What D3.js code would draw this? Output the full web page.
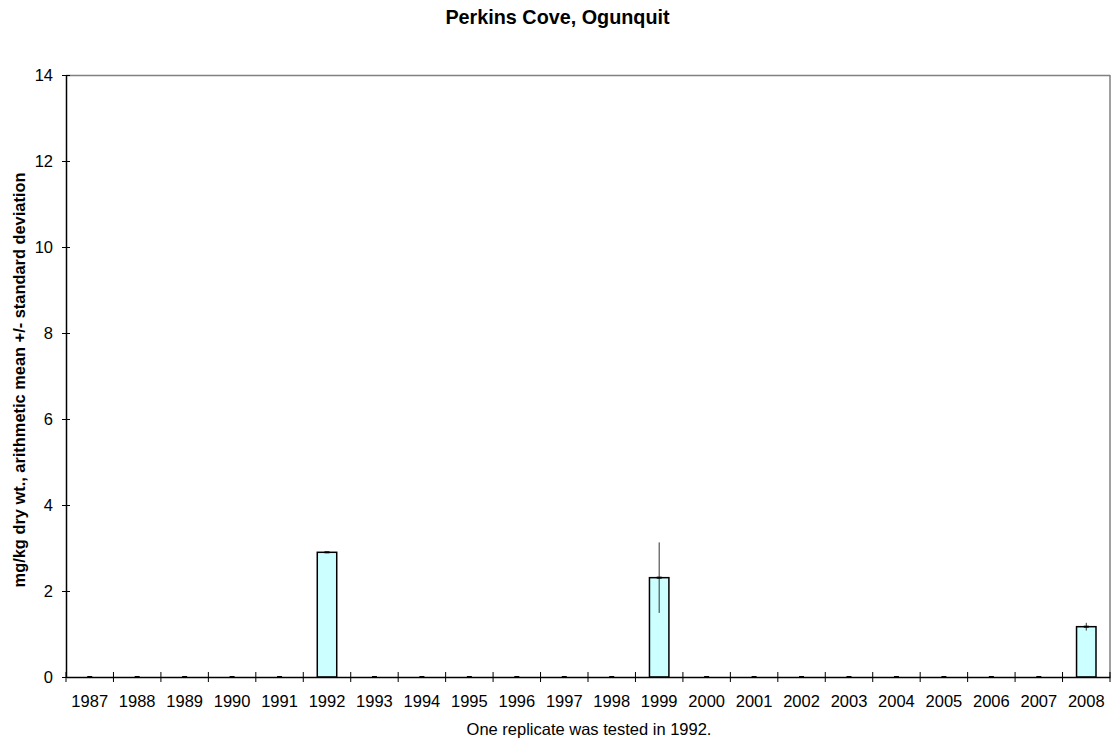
<!DOCTYPE html>
<html><head><meta charset="utf-8">
<script src="https://cdn.jsdelivr.net/npm/d3@7"></script>
<style>body{margin:0;background:#fff;} text{font-family:Arial,"Liberation Sans",sans-serif;}</style>
</head><body>
<svg id="c" width="1114" height="742"></svg>
<script>
const years = ["1987","1988","1989","1990","1991","1992","1993","1994","1995","1996","1997","1998","1999","2000","2001","2002","2003","2004","2005","2006","2007","2008"];
const means = [0,0,0,0,0,2.9,0,0,0,0,0,0,2.31,0,0,0,0,0,0,0,0,1.17];
const sds   = [0,0,0,0,0,0,0,0,0,0,0,0,0.82,0,0,0,0,0,0,0,0,0.09];
const yTicks = [0,2,4,6,8,10,12,14];
const title = "Perkins Cove, Ogunquit";
const yLabel = "mg/kg dry wt., arithmetic mean +/- standard deviation";
const caption = "One replicate was tested in 1992.";

const data = years.map((y,i)=>({year:y, mean:means[i], sd:sds[i]}));
const svg = d3.select("#c");
const L=66, R=1110, T=75, B=677;
const FF = "Arial,'Liberation Sans',sans-serif";
const x = d3.scaleBand().domain(years).range([L,R]).paddingInner(0).paddingOuter(0);
const y = d3.scaleLinear().domain([0,14]).range([B,T]);

// title
svg.append("text").attr("x",557.5).attr("y",23.5).attr("text-anchor","middle")
  .style("font-size","19.8px").style("font-weight","bold").text(title);

// frame (top/right grey)
svg.append("line").attr("x1",L).attr("x2",R).attr("y1",T+0.5).attr("y2",T+0.5).attr("stroke","#808080").attr("stroke-width",1.5);
svg.append("line").attr("x1",R).attr("x2",R).attr("y1",T).attr("y2",B).attr("stroke","#808080").attr("stroke-width",1.5);

// bars
const bw = x.bandwidth()*0.41;
svg.selectAll("rect.bar").data(data.filter(d=>d.mean>0)).enter().append("rect")
  .attr("x",d=>x(d.year)+x.bandwidth()/2-bw/2).attr("width",bw)
  .attr("y",d=>y(d.mean)).attr("height",d=>y(0)-y(d.mean))
  .attr("fill","#CCFFFF").attr("stroke","#000").attr("stroke-width",1.5);

// error bars
svg.selectAll("line.err").data(data.filter(d=>d.sd>0)).enter().append("line")
  .attr("x1",d=>x(d.year)+x.bandwidth()/2).attr("x2",d=>x(d.year)+x.bandwidth()/2)
  .attr("y1",d=>y(d.mean+d.sd)).attr("y2",d=>y(d.mean-d.sd))
  .attr("stroke","#333").attr("stroke-width",1);

// mean dash markers
svg.selectAll("line.mk").data(data).enter().append("line")
  .attr("x1",d=>x(d.year)+x.bandwidth()/2-2.5).attr("x2",d=>x(d.year)+x.bandwidth()/2+2.5)
  .attr("y1",d=>y(d.mean)).attr("y2",d=>y(d.mean))
  .attr("stroke","#000").attr("stroke-width",2);

// y axis
const ya = svg.append("g").attr("transform",`translate(${L},0)`)
  .call(d3.axisLeft(y).tickValues(yTicks).tickSize(4).tickSizeOuter(0));
ya.select(".domain").attr("stroke","#000").attr("stroke-width",1.5);
ya.selectAll(".tick line").attr("x1",4).attr("x2",-4).attr("stroke","#000");
ya.selectAll(".tick text").attr("x",-13).attr("dy","0.35em").style("font-size","16.5px").style("font-family",FF);

// x axis
const xa = svg.append("g").attr("transform",`translate(0,${B})`)
  .call(d3.axisBottom(x).tickSize(0).tickSizeOuter(0));
xa.select(".domain").attr("stroke","#000").attr("stroke-width",1.5);
xa.selectAll(".tick text").attr("y",29.5).attr("dy",0).style("font-size","16.5px").style("font-family",FF);
// boundary cross ticks
const bounds = years.map(yr=>x(yr)).concat([R]);
svg.append("g").selectAll("line").data(bounds).enter().append("line")
  .attr("x1",d=>d).attr("x2",d=>d).attr("y1",B-5).attr("y2",B+5).attr("stroke","#000");

// y label
svg.append("text").attr("transform","translate(25,380) rotate(-90)").attr("text-anchor","middle")
  .style("font-size","16.4px").style("font-weight","bold").text(yLabel);

// caption
svg.append("text").attr("x",(L+R)/2+1).attr("y",735).attr("text-anchor","middle")
  .style("font-size","16.5px").text(caption);
</script>
</body></html>
